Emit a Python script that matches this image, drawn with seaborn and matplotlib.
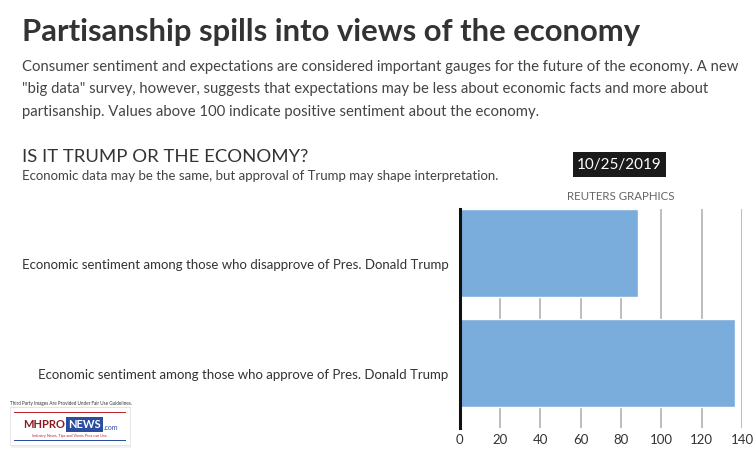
import matplotlib
matplotlib.use("Agg")
import matplotlib.pyplot as plt
import matplotlib.transforms as mtransforms
from matplotlib.patches import Rectangle
import seaborn as sns
import pandas as pd

categories = [
    "Economic sentiment among those who disapprove of Pres. Donald Trump",
    "Economic sentiment among those who approve of Pres. Donald Trump",
]
values = [88.7, 136.6]
x_ticks = [0, 20, 40, 60, 80, 100, 120, 140]

title = "Partisanship spills into views of the economy"
intro = [
    "Consumer sentiment and expectations are considered important gauges for the future of the economy. A new",
    "\"big data\" survey, however, suggests that expectations may be less about economic facts and more about",
    "partisanship. Values above 100 indicate positive sentiment about the economy.",
]
chart_title = "IS IT TRUMP OR THE ECONOMY?"
chart_sub = "Economic data may be the same, but approval of Trump may shape interpretation."
date_txt = "10/25/2019"
credit = "REUTERS GRAPHICS"

sns.set_theme(style="white")
FONT = ["Lato", "DejaVu Sans"]
plt.rcParams["font.family"] = FONT

W, H = 756, 459
fig = plt.figure(figsize=(W / 100, H / 100), dpi=100)
fig.patch.set_facecolor("white")

def fx(x):
    return x / W

def fy(y):
    return 1 - y / H

ax = fig.add_axes([fx(459.5), fy(428), fx(742) - fx(459.5), fy(209) - fy(428)])
df = pd.DataFrame({"category": categories, "value": values})
sns.barplot(data=df, y="category", x="value", color="#7AACDC", saturation=1,
            width=0.8, ax=ax, zorder=3)
ax.set_xlim(0, 140)
ax.set_ylim(1.59, -0.4)
ax.set_xticks(x_ticks)
ax.set_xticklabels([str(t) for t in x_ticks])
ax.xaxis.grid(True, color="#bdbdbd", linewidth=1.4, zorder=0)
ax.yaxis.grid(False)
ax.set_axisbelow(True)
for s in ["top", "right", "bottom"]:
    ax.spines[s].set_visible(False)
ax.spines["left"].set_color("#111111")
ax.spines["left"].set_linewidth(2.2)
ax.spines["left"].set_zorder(5)
ax.set_xlabel("")
ax.set_ylabel("")
ax.tick_params(axis="both", length=0, labelsize=9.5, labelcolor="#333333")
ax.tick_params(axis="x", pad=4)
ax.tick_params(axis="y", pad=8)
offset = mtransforms.ScaledTranslation(0, -11 / 100, fig.dpi_scale_trans)
for lab in ax.get_yticklabels():
    lab.set_transform(lab.get_transform() + offset)

# Header texts
fig.text(fx(22), fy(32), title, fontsize=22.3, fontweight="bold", color="#333333",
         ha="left", va="center")
for i, line in enumerate(intro):
    fig.text(fx(22), fy(67 + i * 22.5), line, fontsize=10.7, color="#444444",
             ha="left", va="center")
fig.text(fx(22), fy(157), chart_title, fontsize=13.3, color="#333333",
         ha="left", va="center")
fig.text(fx(22), fy(176), chart_sub, fontsize=9.5, color="#444444",
         ha="left", va="center")
fig.patches.append(Rectangle((fx(573), fy(177)), fx(666) - fx(573), fy(152) - fy(177),
                             transform=fig.transFigure, facecolor="#1a1a1a",
                             edgecolor="none"))
fig.text(fx(619.5), fy(164.5), date_txt, fontsize=11, color="white",
         ha="center", va="center")
fig.text(fx(621), fy(197), credit, fontsize=8.3, color="#666666",
         ha="center", va="center")

# Watermark logo (approximate)
fig.text(fx(10), fy(403), "Third Party Images Are Provided Under Fair Use Guidelines.",
         fontsize=3.3, color="#333333", ha="left", va="center")
fig.patches.append(Rectangle((fx(11), fy(448)), fx(131) - fx(11), fy(407) - fy(448),
                             transform=fig.transFigure, facecolor="#f2f2f2",
                             edgecolor="none"))
fig.patches.append(Rectangle((fx(10), fy(445)), fx(130) - fx(10), fy(407) - fy(445),
                             transform=fig.transFigure, facecolor="white",
                             edgecolor="#dddddd", linewidth=0.5))
fig.patches.append(Rectangle((fx(14), fy(413)), fx(126) - fx(14), 1.5 / H,
                             transform=fig.transFigure, facecolor="#c0282d",
                             edgecolor="none"))
fig.patches.append(Rectangle((fx(14), fy(441)), fx(126) - fx(14), 1.5 / H,
                             transform=fig.transFigure, facecolor="#2a4da0",
                             edgecolor="none"))
fig.text(fx(65), fy(425), "MHPRO", fontsize=8, fontweight="bold", color="#8b1a1e",
         ha="right", va="center")
fig.patches.append(Rectangle((fx(66), fy(432)), fx(103) - fx(66), fy(417) - fy(432),
                             transform=fig.transFigure, facecolor="#2a4da0",
                             edgecolor="none"))
fig.text(fx(84.5), fy(425), "NEWS", fontsize=8, fontweight="bold", color="white",
         ha="center", va="center")
fig.text(fx(104), fy(427), ".com", fontsize=5, color="#2a4da0", ha="left", va="center")
fig.text(fx(70), fy(436), "Industry News, Tips and Views Pros can Use.",
         fontsize=2.8, color="#c0282d", ha="center", va="center")

fig.savefig("out.png", dpi=100, facecolor="white")
